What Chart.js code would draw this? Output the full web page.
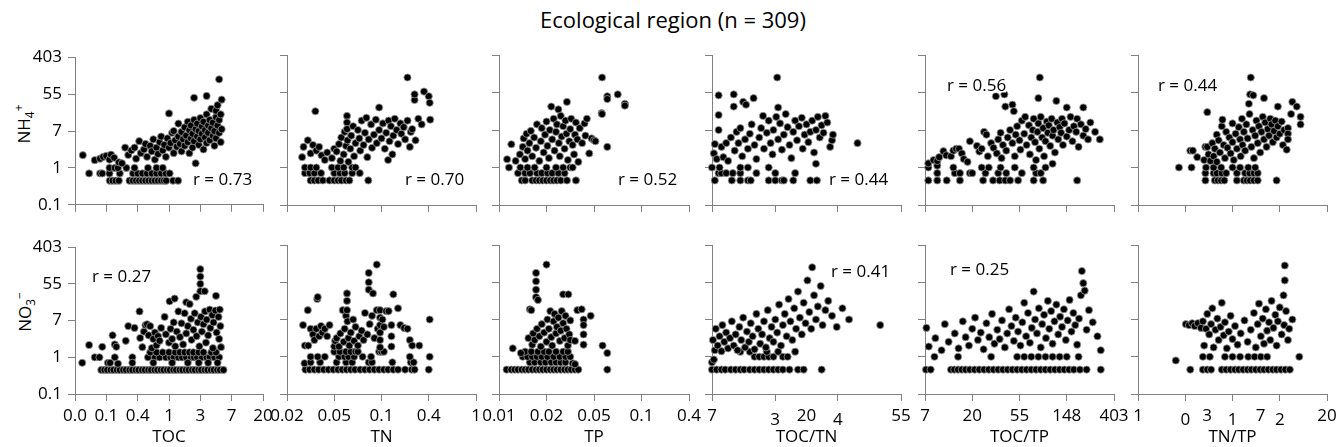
<!DOCTYPE html>
<html>
<head>
<meta charset="utf-8">
<script src="https://cdn.jsdelivr.net/npm/chart.js@4.4.1/dist/chart.umd.min.js"></script>
<style>
  html, body { margin: 0; padding: 0; background: #fff; overflow: hidden; }
  #page { position: relative; width: 1336px; height: 447px; font-family: 'Open Sans', sans-serif; color: #000; }
  #page canvas { position: absolute; }
  .txt { position: absolute; white-space: nowrap; line-height: 1; }
  .title { font-size: 22px; transform: translate(-50%, -50%); }
  .ylab { font-size: 17px; transform: translate(-50%, -50%) rotate(-90deg); }
  .ylab sub, .ylab sup { font-size: 0.7em; line-height: 0; }
  .rlab { font-size: 17px; background: #fff; transform: translateY(-50%); }
</style>
</head>
<body>
<div id="page">
  <div class="txt title" style="left:673px; top:19px;">Ecological region (n = 309)</div>
  <div class="txt ylab" style="left:23px; top:124px;">NH<sub>4</sub><sup>+</sup></div>
  <div class="txt ylab" style="left:24px; top:312px;">NO<sub>3</sub><sup>−</sup></div>
</div>
<script>
/* ---- axes: every axis is ln(value); labels are the rounded back-transformed values ---- */
const yTicks = [-2, 0, 2, 4, 6];
const yTickLabels = ['0.1', '1', '7', '55', '403'];

const tocTicks = [-3, -2, -1, 0, 1, 2, 3];
const tocLabels = ['0.0', '0.1', '0.4', '1', '3', '7', '20'];
const tnTicks = [-4, -3, -2, -1, 0];
const tnLabels = ['0.02', '0.05', '0.1', '0.4', '1'];
const tpTicks = [-5, -4, -3, -2, -1];
const tpLabels = ['0.01', '0.02', '0.05', '0.1', '0.4'];
const tocTnTicks = [2, 2.667, 3.333, 4];
const tocTnLabels = ['7', '', '', '55'];
const tocTnExtra = [[2.667, '3', 1], [3.0, '20', 0], [3.333, '4', 1]];   // [value, text, lowered]
const tocTpTicks = [2, 3, 4, 5, 6];
const tocTpLabels = ['7', '20', '55', '148', '403'];
const tnTpTicks = [0, 0.75, 1.5, 2.25, 3];
const tnTpLabels = ['1', '', '', '', '20'];
const tnTpExtra = [[0.75, '0', 1], [1.0986, '3', 0], [1.5, '1', 1], [1.9459, '7', 0], [2.25, '2', 1]];

const xTitles = ['TOC', 'TN', 'TP', 'TOC/TN', 'TOC/TP', 'TN/TP'];
const rTop = ['r = 0.73', 'r = 0.70', 'r = 0.52', 'r = 0.44', 'r = 0.56', 'r = 0.44'];
const rBottom = ['r = 0.27', '', '', 'r = 0.41', 'r = 0.25', ''];

/* ---- NH4+ (top row), [ln x, ln y] ---- */
const nh4TOC = [
  [-1.89,-0.69],[-1.8,-0.69],[-1.7,-0.69],[-1.6,-0.69],[-1.26,-0.69],[-1.15,-0.69],[-1.05,-0.69],[-0.95,-0.69],[-0.85,-0.69],
  [-0.75,-0.69],[-0.65,-0.69],[-0.55,-0.69],[-0.45,-0.69],[-0.35,-0.69],[-0.25,-0.69],[-0.16,-0.69],[-0.09,-0.69],[0.13,-0.69],[0.29,-0.69],
  [-2.55,-0.3],[-2.2,-0.3],[-2.13,-0.3],[-1.9,-0.3],[-1.57,-0.3],[-1.15,-0.3],[-1.0,-0.3],[-0.85,-0.3],[-0.7,-0.3],[-0.55,-0.3],
  [-0.4,-0.3],[-0.25,-0.3],[-0.1,-0.3],[0.02,-0.3],
  [-1.9,0],[-1.73,0],[-1.63,0],[-1.36,0],[-1.1,0],[-0.67,0],[-0.4,0],[-0.2,0],
  [-2.75,0.69],[-2.37,0.42],[-2.2,0.5],[-2.1,0.6],[-2.0,0.65],[-1.9,0.45],[-1.85,0.72],[-1.75,0.55],[-1.6,0.3],[-1.5,0.25],
  [-1.4,1.1],[-1.3,0.7],[-1.2,0.95],[-1.1,1.1],[-1.05,0.5],[-0.95,1.45],[-0.9,0.8],[-0.8,1.0],[-0.75,1.3],[-0.7,0.6],
  [-0.6,1.2],[-0.55,0.9],[-0.5,1.55],[-0.45,0.45],[-0.4,1.1],[-0.35,0.75],[-0.3,1.4],[-0.25,1.7],[-0.2,0.95],[-0.15,1.25],
  [-0.1,0.6],[-0.05,1.6],[0.0,2.95],[0.0,1.1],[0.05,1.35],[0.1,1.9],[0.15,2.0],[0.15,0.8],[0.2,1.5],[0.25,1.15],
  [0.3,1.7],[0.3,2.4],[0.35,1.3],[0.4,0.9],[0.4,1.95],[0.45,1.55],[0.5,2.2],[0.5,1.2],[0.55,1.75],[0.6,2.5],
  [0.6,1.4],[0.65,0.8],[0.65,2.05],[0.7,1.6],[0.7,2.3],[0.75,1.1],[0.75,1.85],[0.8,3.8],[0.8,2.6],[0.8,1.45],
  [0.85,2.1],[0.85,0.25],[0.9,1.7],[0.9,2.4],[0.95,1.25],[0.95,2.0],[1.0,2.7],[1.0,1.55],[1.05,2.25],[1.05,1.85],
  [1.1,1.0],[1.1,2.5],[1.15,1.65],[1.15,2.05],[1.2,3.9],[1.2,2.9],[1.2,1.35],[1.25,2.3],[1.25,1.9],[1.3,2.6],
  [1.3,1.5],[1.35,3.2],[1.35,2.15],[1.4,1.75],[1.4,2.45],[1.45,1.2],[1.45,2.0],[1.5,2.75],[1.5,3.1],[1.5,1.6],
  [1.55,2.3],[1.55,3.4],[1.6,4.8],[1.6,1.9],[1.6,2.6],[1.65,2.9],[1.65,1.4],[1.68,3.7],[1.68,2.1]
];
const nh4TN = [
  [-3.5,-0.69],[-3.42,-0.69],[-3.34,-0.69],[-3.24,-0.69],[-3.1,-0.69],[-3.0,-0.69],[-2.92,-0.69],[-2.85,-0.69],[-2.75,-0.69],[-2.68,-0.69],[-2.28,-0.69],
  [-3.62,-0.3],[-3.52,-0.3],[-3.42,-0.3],[-3.28,-0.3],[-3.0,-0.3],[-2.88,-0.3],[-2.78,-0.3],[-2.62,-0.3],[-2.46,-0.3],
  [-3.62,0],[-3.5,0],[-3.38,0],[-3.05,0],[-2.92,0],[-2.8,0],[-2.62,0],[-2.55,0],
  [-3.68,0.55],[-3.65,1.1],[-3.56,1.45],[-3.5,0.75],[-3.45,1.2],[-3.4,3.0],[-3.38,0.9],[-3.32,1.1],[-3.27,0.65],[-3.2,0.4],
  [-3.15,0.8],[-3.05,0.5],[-3.0,1.0],[-2.95,0.85],[-2.9,1.25],[-2.87,0.35],[-2.85,1.6],[-2.8,0.7],[-2.78,1.9],[-2.75,1.15],
  [-2.73,2.75],[-2.73,2.4],[-2.73,2.05],[-2.72,1.45],[-2.7,0.3],[-2.66,1.0],[-2.64,1.7],[-2.6,2.2],[-2.58,0.6],[-2.55,1.3],
  [-2.5,2.0],[-2.47,1.55],[-2.45,0.9],[-2.42,2.5],[-2.38,1.2],[-2.35,1.85],[-2.32,2.65],[-2.3,0.55],[-2.27,1.5],[-2.22,2.3],
  [-2.2,1.05],[-2.16,1.75],[-2.12,2.55],[-2.1,1.3],[-2.05,3.2],[-2.05,2.0],[-2.0,1.55],[-1.97,2.35],[-1.93,1.0],[-1.9,1.85],
  [-1.86,0.4],[-1.85,2.5],[-1.83,1.4],[-1.8,2.2],[-1.77,0.7],[-1.75,1.7],[-1.72,2.6],[-1.68,2.0],[-1.65,1.25],[-1.6,2.35],
  [-1.58,1.8],[-1.53,2.15],[-1.5,1.5],[-1.45,4.8],[-1.45,2.5],[-1.4,1.1],[-1.38,1.9],[-1.35,2.05],[-1.3,3.6],[-1.3,3.9],
  [-1.28,1.45],[-1.22,2.6],[-1.15,2.3],[-1.1,4.05],[-1.0,3.8],[-0.98,3.45],[-0.97,2.55]
];
const nh4TP = [
  [-4.52,-0.69],[-4.45,-0.69],[-4.3,-0.69],[-4.22,-0.69],[-4.15,-0.69],[-4.08,-0.69],[-4.0,-0.69],[-3.92,-0.69],[-3.85,-0.69],
  [-3.78,-0.69],[-3.7,-0.69],[-3.57,-0.69],[-3.38,-0.69],
  [-4.6,-0.3],[-4.45,-0.3],[-4.35,-0.3],[-4.2,-0.3],[-4.1,-0.3],[-3.98,-0.3],[-3.88,-0.3],[-3.75,-0.3],[-3.62,-0.3],
  [-4.79,0],[-4.55,0],[-4.4,0],[-4.25,0],[-4.0,0],[-3.8,0],[-3.65,0],[-3.5,0],[-3.45,0],
  [-4.83,0.44],[-4.74,1.24],[-4.65,0.35],[-4.56,0.7],[-4.5,1.1],[-4.48,1.55],[-4.45,0.45],[-4.42,1.8],[-4.4,0.9],[-4.36,1.3],
  [-4.33,1.95],[-4.3,0.6],[-4.26,1.6],[-4.22,1.05],[-4.2,2.3],[-4.15,0.35],[-4.12,1.4],[-4.1,2.1],[-4.06,0.8],[-4.03,1.75],
  [-4.0,2.45],[-3.98,1.15],[-3.95,0.5],[-3.93,2.0],[-3.9,3.25],[-3.88,1.5],[-3.85,2.6],[-3.83,0.9],[-3.8,1.9],[-3.78,2.3],
  [-3.75,3.1],[-3.74,1.3],[-3.72,0.6],[-3.7,2.75],[-3.68,1.65],[-3.65,2.2],[-3.62,1.0],[-3.6,2.5],[-3.58,1.8],[-3.57,3.5],
  [-3.55,0.4],[-3.52,1.4],[-3.5,2.05],[-3.48,2.6],[-3.45,1.2],[-3.42,0.7],[-3.4,1.75],[-3.38,2.4],[-3.35,1.5],[-3.33,0.3],
  [-3.3,2.1],[-3.25,1.3],[-3.2,2.35],[-3.18,1.7],[-3.15,2.6],[-3.1,0.75],[-3.05,1.55],[-3.0,1.45],[-2.97,1.4],[-2.84,2.9],
  [-2.83,2.85],[-2.83,4.8],[-2.72,3.8],[-2.72,3.65],[-2.72,1.1],[-2.5,3.9],[-2.35,3.4],[-2.35,3.3]
];
const nh4TOCTN = [
  [2.03,-0.69],[2.21,-0.69],[2.3,-0.69],[2.38,-0.69],[2.41,-0.69],[2.6,-0.69],[2.67,-0.69],[2.74,-0.69],[2.76,-0.69],[2.86,-0.69],[3.04,-0.69],[3.11,-0.69],
  [2.07,-0.3],[2.1,-0.3],[2.15,-0.3],[2.22,-0.3],[2.3,-0.3],[2.47,-0.3],[2.67,-0.3],[2.88,-0.3],
  [2.0,0],[2.08,0],[2.3,0],[2.38,0],[2.6,0],[3.1,0.2],
  [2.02,0.75],[2.03,1.25],[2.05,0.45],[2.07,2.8],[2.07,2.0],[2.07,3.85],[2.1,1.1],[2.12,0.55],[2.15,1.3],[2.17,0.35],
  [2.2,1.6],[2.23,3.9],[2.23,3.25],[2.24,0.9],[2.26,1.9],[2.28,1.3],[2.3,2.1],[2.32,0.6],[2.33,3.5],[2.35,1.5],
  [2.36,3.35],[2.38,1.0],[2.4,1.8],[2.42,2.3],[2.44,3.7],[2.45,1.2],[2.47,0.45],[2.5,1.6],[2.52,2.1],[2.54,2.75],
  [2.55,1.0],[2.58,1.85],[2.6,2.5],[2.62,1.3],[2.64,0.7],[2.65,2.0],[2.68,2.7],[2.69,4.8],[2.7,3.2],[2.7,1.5],
  [2.72,2.35],[2.74,0.95],[2.76,1.75],[2.78,2.85],[2.8,2.15],[2.82,1.2],[2.84,0.5],[2.86,1.9],[2.88,2.5],[2.9,1.45],
  [2.92,2.2],[2.95,2.65],[2.96,1.0],[2.98,1.75],[3.0,2.3],[3.02,1.35],[3.04,1.9],[3.06,2.5],[3.08,0.8],[3.1,2.0],
  [3.12,2.7],[3.14,1.6],[3.16,2.25],[3.18,1.85],[3.2,2.75],[3.22,2.4],[3.25,1.1],[3.27,1.45],[3.28,1.75],[3.54,1.3]
];
const nh4TOCTP = [
  [2.07,-0.69],[2.26,-0.69],[2.46,-0.69],[2.74,-0.69],[3.23,-0.69],[3.44,-0.69],[3.58,-0.69],[3.7,-0.69],[3.8,-0.69],[3.97,-0.69],
  [4.3,-0.69],[4.5,-0.69],[5.22,-0.69],
  [2.26,-0.3],[2.63,-0.3],[2.74,-0.3],[2.95,-0.3],[3.0,-0.3],[3.28,-0.3],[3.55,-0.3],[3.72,-0.3],[4.05,-0.3],[4.35,-0.3],[4.45,-0.3],
  [2.07,0],[2.26,0.1],[2.6,0],[3.2,0],[3.35,0],[3.6,0],[3.9,0],[4.3,0],[4.55,0],[4.7,0.2],
  [2.07,0.22],[2.18,0.4],[2.26,0.35],[2.3,0.55],[2.39,0.87],[2.45,0.65],[2.55,0.6],[2.6,0.9],[2.66,1.0],[2.72,1.0],
  [2.78,0.75],[2.82,0.45],[2.95,1.4],[2.9,0.3],[3.1,1.15],[3.15,0.85],[3.2,1.0],[3.25,1.9],[3.3,1.75],[3.33,0.6],
  [3.4,1.3],[3.45,1.05],[3.5,3.8],[3.52,0.75],[3.55,1.5],[3.6,1.85],[3.62,0.5],[3.65,1.2],[3.68,3.9],[3.7,3.25],
  [3.72,0.9],[3.75,1.6],[3.8,2.0],[3.85,3.35],[3.85,1.3],[3.88,3.0],[3.9,0.6],[3.92,1.75],[3.95,2.2],[4.0,1.45],
  [4.02,0.95],[4.05,2.5],[4.1,1.8],[4.12,2.7],[4.15,1.2],[4.2,2.25],[4.22,0.7],[4.25,1.6],[4.28,2.0],[4.3,2.6],
  [4.33,1.35],[4.35,0.4],[4.38,1.9],[4.4,3.7],[4.4,2.35],[4.42,1.0],[4.43,4.8],[4.45,2.7],[4.48,1.6],[4.5,2.1],
  [4.52,0.6],[4.55,1.4],[4.58,2.45],[4.6,1.85],[4.62,2.25],[4.65,1.15],[4.68,2.6],[4.7,1.7],[4.72,2.0],[4.75,0.8],
  [4.78,3.55],[4.8,2.4],[4.82,1.5],[4.85,2.15],[4.88,1.85],[4.9,2.6],[4.92,1.2],[4.95,2.35],[5.0,3.2],[5.0,1.65],
  [5.05,2.0],[5.08,2.7],[5.12,1.4],[5.15,2.2],[5.2,1.9],[5.22,2.6],[5.25,1.1],[5.3,2.3],[5.35,3.2],[5.35,1.7],
  [5.4,2.05],[5.45,1.5],[5.5,2.4],[5.6,1.9],[5.7,1.5]
];
const nh4TNTP = [
  [1.07,-0.69],[1.22,-0.69],[1.27,-0.69],[1.32,-0.69],[1.37,-0.69],[1.57,-0.69],[1.68,-0.69],[1.73,-0.69],[1.78,-0.69],[1.84,-0.69],[1.9,-0.69],[2.2,-0.69],
  [1.07,-0.3],[1.2,-0.3],[1.25,-0.3],[1.33,-0.3],[1.4,-0.3],[1.57,-0.3],[1.7,-0.3],[1.77,-0.3],[1.84,-0.3],[1.9,-0.3],
  [0.65,0],[0.85,0],[1.08,0],[1.2,0],[1.32,0],[1.5,0],[1.62,0],[1.75,0],[1.86,0],
  [0.83,0.9],[0.87,0.9],[0.94,0.55],[1.05,0.4],[1.07,1.1],[1.1,1.1],[1.1,2.95],[1.12,0.7],[1.15,0.35],[1.18,1.3],
  [1.2,0.6],[1.22,1.0],[1.25,1.75],[1.25,0.3],[1.28,1.45],[1.3,0.8],[1.33,2.2],[1.34,2.55],[1.36,1.2],[1.38,0.5],
  [1.4,1.9],[1.42,1.05],[1.45,1.6],[1.47,0.75],[1.5,2.35],[1.5,1.35],[1.52,0.4],[1.55,1.8],[1.57,1.0],[1.6,2.15],
  [1.62,1.5],[1.63,0.6],[1.65,2.6],[1.66,1.2],[1.68,1.9],[1.7,0.9],[1.72,2.3],[1.74,1.55],[1.76,3.4],[1.77,2.85],
  [1.78,3.9],[1.79,4.8],[1.8,1.1],[1.82,2.0],[1.83,3.85],[1.84,0.5],[1.86,1.7],[1.88,2.5],[1.9,1.3],[1.92,2.2],
  [1.94,0.8],[1.96,1.9],[1.98,2.7],[2.0,3.7],[2.0,1.5],[2.02,2.4],[2.04,1.1],[2.06,2.05],[2.08,1.7],[2.1,2.6],
  [2.12,2.3],[2.14,1.35],[2.16,1.95],[2.18,2.5],[2.2,1.6],[2.22,3.25],[2.22,2.2],[2.25,1.8],[2.28,2.45],[2.3,1.2],
  [2.32,2.0],[2.36,0.95],[2.38,2.1],[2.38,1.8],[2.38,1.5],[2.43,2.85],[2.45,3.5],[2.52,3.25],[2.58,2.7],[2.58,2.3]
];

/* ---- NO3- (bottom row) ---- */
const no3TOC = [
  [-2.16,-0.69],[-2.06,-0.69],[-1.97,-0.69],[-1.86,-0.69],[-1.77,-0.69],[-1.66,-0.69],[-1.57,-0.69],[-1.46,-0.69],[-1.37,-0.69],[-1.26,-0.69],
  [-1.17,-0.69],[-1.06,-0.69],[-0.97,-0.69],[-0.86,-0.69],[-0.77,-0.69],[-0.66,-0.69],[-0.57,-0.69],[-0.46,-0.69],[-0.37,-0.69],[-0.26,-0.69],
  [-0.17,-0.69],[-0.06,-0.69],[0.03,-0.69],[0.14,-0.69],[0.23,-0.69],[0.34,-0.69],[0.43,-0.69],[0.54,-0.69],[0.63,-0.69],[0.74,-0.69],
  [0.83,-0.69],[0.94,-0.69],[1.03,-0.69],[1.14,-0.69],[1.23,-0.69],[1.34,-0.69],[1.43,-0.69],[1.54,-0.69],[1.63,-0.69],[1.74,-0.69],
  [-2.37,0],[-2.22,0],[-1.73,0],[-1.17,0],[-0.67,0],[-0.45,0],[-0.3,0],[-0.1,0],[0.05,0],[0.15,0],[0.3,0],[0.42,0],
  [0.55,0],[0.7,0],[0.8,0],[0.9,0],[1.05,0],[1.2,0],[1.3,0],[1.45,0],[1.6,0],
  [-2.77,-0.3],[-1.95,-0.3],[-1.88,-0.3],[-1.63,-0.35],[-1.17,-0.3],[-0.5,-0.3],[0.1,-0.3],[0.6,-0.3],[0.95,-0.3],[1.25,-0.3],[1.55,-0.3],
  [-0.6,0.27],[-0.4,0.27],[-0.2,0.27],[0.0,0.27],[0.2,0.27],[0.35,0.27],[0.5,0.27],[0.65,0.27],[0.78,0.27],[0.95,0.27],[1.1,0.27],[1.35,0.27],[1.5,0.27],
  [-2.55,0.67],[-2.13,0.57],[-1.8,1.2],[-1.73,0.7],[-1.68,0.57],[-1.38,0.9],[-1.3,1.7],[-1.1,1.6],[-0.94,2.5],[-0.92,1.05],
  [-0.85,0.55],[-0.8,1.4],[-0.75,1.75],[-0.7,1.8],[-0.65,1.2],[-0.6,1.7],[-0.55,0.5],[-0.5,1.0],[-0.45,1.35],[-0.4,0.65],
  [-0.35,1.15],[-0.3,0.9],[-0.25,1.6],[-0.14,2.2],[-0.1,1.25],[0.0,0.8],[0.02,3.05],[0.05,1.55],[0.1,1.0],[0.15,1.9],
  [0.18,3.2],[0.2,0.6],[0.25,1.4],[0.3,2.5],[0.35,1.1],[0.4,1.85],[0.45,0.7],[0.5,2.4],[0.55,3.0],[0.55,1.3],
  [0.6,1.7],[0.66,2.9],[0.7,2.1],[0.72,0.95],[0.78,1.5],[0.82,2.4],[0.87,3.3],[0.88,1.15],[0.92,1.9],[0.97,0.6],
  [1.0,4.8],[1.0,4.4],[1.0,4.0],[1.0,3.6],[1.02,2.2],[1.05,1.4],[1.1,1.8],[1.14,3.6],[1.15,2.5],[1.18,0.8],
  [1.2,2.05],[1.25,1.2],[1.3,2.6],[1.32,1.6],[1.38,2.3],[1.4,0.5],[1.42,1.9],[1.48,2.55],[1.5,3.35],[1.52,1.35],
  [1.58,2.2],[1.6,1.0],[1.62,2.6],[1.64,1.7],[1.66,0.55]
];
const no3TN = [
  [-3.61,-0.69],[-3.52,-0.69],[-3.42,-0.69],[-3.33,-0.69],[-3.22,-0.69],[-3.12,-0.69],[-3.02,-0.69],[-2.92,-0.69],[-2.83,-0.69],[-2.74,-0.69],
  [-2.65,-0.69],[-2.56,-0.69],[-2.45,-0.69],[-2.35,-0.69],[-2.25,-0.69],[-2.15,-0.69],[-2.05,-0.69],[-1.95,-0.69],[-1.86,-0.69],[-1.75,-0.69],
  [-1.65,-0.69],[-1.5,-0.69],[-1.36,-0.69],[-1.3,-0.69],[-1.0,-0.69],
  [-3.63,-0.35],[-3.5,-0.3],[-3.3,-0.3],[-2.95,-0.3],[-2.75,-0.3],[-2.62,-0.3],[-2.27,-0.3],[-2.2,-0.3],[-1.77,-0.3],[-1.38,-0.3],[-1.32,-0.3],
  [-3.5,0],[-3.35,0],[-3.2,0],[-2.9,0],[-2.78,0],[-2.7,0],[-2.58,0],[-2.4,0],[-2.22,0],[-1.4,0],[-0.98,0],
  [-3.0,0.27],[-2.88,0.27],[-2.75,0.27],[-2.65,0.27],[-2.55,0.27],[-2.5,0.27],[-2.05,0.27],[-2.0,0.27],[-1.95,0.27],
  [-3.66,1.7],[-3.62,0.6],[-3.56,2.5],[-3.55,0.6],[-3.5,1.5],[-3.45,1.2],[-3.42,0.9],[-3.38,1.5],[-3.36,3.1],[-3.35,3.2],
  [-3.32,1.1],[-3.28,1.65],[-3.25,1.3],[-3.2,1.5],[-3.15,1.1],[-3.1,1.7],[-3.0,0.55],[-2.98,0.85],[-2.95,1.0],[-2.9,0.55],
  [-2.87,1.25],[-2.82,2.5],[-2.8,0.8],[-2.78,1.5],[-2.75,2.2],[-2.73,3.4],[-2.73,3.0],[-2.73,2.5],[-2.72,1.9],[-2.7,1.0],
  [-2.68,0.6],[-2.65,1.3],[-2.6,2.0],[-2.58,0.85],[-2.55,1.6],[-2.5,0.6],[-2.47,1.1],[-2.42,1.4],[-2.38,0.9],[-2.35,2.35],
  [-2.3,1.2],[-2.27,4.5],[-2.27,4.0],[-2.27,3.6],[-2.25,1.75],[-2.2,2.2],[-2.18,3.4],[-2.15,1.0],[-2.1,4.95],[-2.1,2.5],
  [-2.08,1.5],[-2.03,2.5],[-2.03,2.1],[-2.03,1.7],[-2.03,1.3],[-2.03,0.9],[-2.03,0.5],[-1.98,2.0],[-1.95,1.6],[-1.9,2.45],
  [-1.85,2.45],[-1.79,1.7],[-1.79,1.1],[-1.79,0.55],[-1.75,3.35],[-1.65,2.6],[-1.6,1.7],[-1.52,1.55],[-1.45,1.5],[-1.4,0.9],
  [-1.35,0.6],[-1.2,0.6],[-0.98,2.0]
];
const no3TP = [
  [-4.84,-0.69],[-4.74,-0.69],[-4.67,-0.69],[-4.6,-0.69],[-4.52,-0.69],[-4.45,-0.69],[-4.38,-0.69],[-4.3,-0.69],[-4.22,-0.69],[-4.15,-0.69],
  [-4.08,-0.69],[-4.0,-0.69],[-3.92,-0.69],[-3.85,-0.69],[-3.78,-0.69],[-3.7,-0.69],[-3.62,-0.69],[-3.55,-0.69],[-3.48,-0.69],[-3.4,-0.69],
  [-3.33,-0.69],[-2.72,-0.69],
  [-4.35,-0.3],[-4.25,-0.3],[-4.12,-0.3],[-4.02,-0.3],[-3.9,-0.3],[-3.8,-0.3],[-3.7,-0.3],[-3.6,-0.3],[-3.45,-0.35],[-3.4,-0.4],
  [-4.5,0],[-4.4,0],[-4.3,0],[-4.2,0],[-4.1,0],[-3.98,0],[-3.85,0],[-3.72,0],[-3.6,0],[-3.5,0],
  [-4.45,0.27],[-4.32,0.27],[-4.18,0.27],[-4.05,0.27],[-3.95,0.27],[-3.8,0.27],[-3.65,0.27],[-3.55,0.27],
  [-4.71,0.45],[-4.54,0.2],[-4.38,1.0],[-4.35,2.55],[-4.32,2.5],[-4.3,0.65],[-4.28,1.25],[-4.25,0.9],[-4.22,4.5],[-4.22,4.05],
  [-4.22,3.6],[-4.22,3.2],[-4.18,3.05],[-4.2,1.5],[-4.15,1.1],[-4.12,0.55],[-4.1,1.75],[-4.05,1.3],[-4.0,4.95],[-4.0,0.8],
  [-3.98,2.0],[-3.95,1.5],[-3.92,2.45],[-3.9,1.05],[-3.88,0.6],[-3.85,1.9],[-3.83,2.3],[-3.8,1.25],[-3.78,1.6],[-3.75,2.1],
  [-3.72,0.85],[-3.7,1.4],[-3.68,2.45],[-3.65,3.35],[-3.65,1.8],[-3.62,1.0],[-3.6,2.2],[-3.58,1.5],[-3.55,0.6],[-3.54,3.35],
  [-3.52,1.2],[-3.5,1.95],[-3.5,0.9],[-3.4,0.85],[-3.35,2.5],[-3.26,2.55],[-3.22,2.0],[-3.22,1.7],[-3.22,1.2],[-3.22,0.65],
  [-3.07,2.2],[-2.82,0.6],[-2.72,0.2]
];
const no3TOCTN = [
  [2.0,-0.69],[2.05,-0.69],[2.1,-0.69],[2.14,-0.69],[2.2,-0.69],[2.25,-0.69],[2.3,-0.69],[2.34,-0.69],[2.4,-0.69],[2.45,-0.69],
  [2.5,-0.69],[2.55,-0.69],[2.6,-0.69],[2.65,-0.69],[2.7,-0.69],[2.75,-0.69],[2.82,-0.69],[2.91,-0.69],[2.97,-0.69],[3.16,-0.69],
  [2.0,-0.3],[2.02,-0.15],[2.45,0],[2.5,0],[2.55,0],[2.6,0],[2.65,0],[2.75,0],[2.8,0],
  [2.3,0.27],[2.4,0.27],[2.58,0.27],[2.7,0.27],[2.88,0.27],
  [2.01,0.9],[2.03,0.35],[2.04,1.5],[2.06,0.6],[2.08,1.1],[2.1,0.3],[2.11,1.7],[2.13,0.8],[2.15,1.3],[2.17,0.45],
  [2.19,1.0],[2.21,1.9],[2.23,0.6],[2.25,1.2],[2.27,0.35],[2.29,1.6],[2.31,0.9],[2.33,2.1],[2.35,0.5],[2.37,1.35],
  [2.39,0.8],[2.41,1.8],[2.43,1.1],[2.45,0.4],[2.47,2.3],[2.49,1.5],[2.51,0.7],[2.53,1.2],[2.55,1.9],[2.57,0.5],
  [2.59,2.5],[2.61,1.0],[2.63,1.6],[2.65,0.8],[2.67,2.0],[2.69,1.3],[2.71,2.8],[2.73,0.6],[2.75,1.7],[2.77,2.3],
  [2.79,1.1],[2.81,3.1],[2.83,1.9],[2.85,0.9],[2.87,2.6],[2.89,1.5],[2.91,3.5],[2.93,2.1],[2.95,1.2],[2.97,2.9],
  [2.99,1.8],[3.01,4.1],[3.03,2.4],[3.05,1.5],[3.06,4.8],[3.08,3.3],[3.1,2.0],[3.12,2.7],[3.15,3.8],[3.17,1.7],
  [3.2,2.5],[3.23,3.0],[3.27,2.2],[3.32,1.6],[3.38,2.6],[3.45,2.0],[3.78,1.7]
];
const no3TOCTP = [
  [2.02,-0.69],[2.12,-0.69],[2.55,-0.69],[2.62,-0.69],[2.7,-0.69],[2.78,-0.69],[2.86,-0.69],[2.95,-0.69],[3.05,-0.69],[3.15,-0.69],
  [3.25,-0.69],[3.35,-0.69],[3.45,-0.69],[3.55,-0.69],[3.65,-0.69],[3.75,-0.69],[3.85,-0.69],[3.95,-0.69],[4.05,-0.69],[4.15,-0.69],
  [4.25,-0.69],[4.35,-0.69],[4.45,-0.69],[4.55,-0.69],[4.65,-0.69],[4.75,-0.69],[4.85,-0.69],[4.95,-0.69],[5.05,-0.69],[5.15,-0.69],
  [5.28,-0.69],[5.42,-0.69],[5.72,-0.69],
  [2.2,0],[2.7,0],[3.4,0],[3.95,0],[4.1,0],[4.25,0],[4.4,0],[4.55,0],[4.7,0],[4.85,0],[5.0,0],[5.25,0],
  [2.03,1.55],[2.08,0.55],[2.22,1.0],[2.35,0.35],[2.42,1.75],[2.5,0.8],[2.63,1.25],[2.71,0.45],[2.8,1.9],[2.86,1.05],
  [2.93,0.6],[3.0,1.5],[3.06,2.1],[3.12,0.9],[3.18,1.3],[3.24,0.4],[3.3,1.8],[3.36,1.05],[3.42,2.3],[3.47,0.7],
  [3.53,1.45],[3.58,0.95],[3.63,1.95],[3.69,0.5],[3.74,1.25],[3.78,2.55],[3.83,1.65],[3.88,0.85],[3.92,2.1],[3.97,1.35],
  [4.02,0.6],[4.06,1.85],[4.1,2.9],[4.14,1.1],[4.18,2.35],[4.22,0.75],[4.26,1.55],[4.3,3.5],[4.33,2.0],[4.37,1.25],
  [4.41,2.6],[4.45,0.5],[4.48,1.75],[4.52,2.25],[4.56,1.0],[4.6,3.0],[4.63,1.5],[4.67,2.45],[4.7,0.7],[4.74,1.9],
  [4.78,2.8],[4.82,1.2],[4.86,2.15],[4.9,1.6],[4.94,2.55],[4.98,0.9],[5.02,1.95],[5.06,3.05],[5.1,1.35],[5.14,2.35],
  [5.18,1.7],[5.22,0.65],[5.26,2.05],[5.3,3.3],[5.32,4.6],[5.35,3.95],[5.38,3.55],[5.42,1.45],[5.47,2.5],[5.55,1.85],
  [5.65,1.1],[5.72,0.35]
];
const no3TNTP = [
  [0.83,-0.69],[1.03,-0.69],[1.1,-0.69],[1.16,-0.69],[1.33,-0.69],[1.4,-0.69],[1.47,-0.69],[1.54,-0.69],[1.6,-0.69],[1.67,-0.69],
  [1.74,-0.69],[1.8,-0.69],[1.87,-0.69],[1.94,-0.69],[2.0,-0.69],[2.07,-0.69],[2.14,-0.69],[2.2,-0.69],[2.27,-0.69],[2.34,-0.69],[2.41,-0.69],
  [0.6,-0.2],[1.03,0],[1.14,0],[1.38,0],[1.5,0],[1.62,0],[1.75,0],[1.85,0],[1.95,0],[2.05,0],[2.56,0],
  [0.76,1.75],[0.81,1.7],[0.86,1.8],[0.9,1.65],[0.95,1.8],[1.0,1.55],[1.03,1.9],[1.05,0.6],[1.08,1.5],[1.1,2.3],
  [1.13,1.2],[1.16,1.75],[1.18,2.6],[1.2,0.5],[1.23,1.45],[1.26,2.05],[1.28,0.9],[1.31,1.6],[1.33,2.9],[1.36,1.15],
  [1.38,1.85],[1.41,0.45],[1.44,1.35],[1.47,2.2],[1.5,0.95],[1.54,1.65],[1.58,0.65],[1.63,1.25],[1.69,1.95],[1.74,0.8],
  [1.79,1.45],[1.84,2.35],[1.87,0.5],[1.9,1.75],[1.92,2.85],[1.95,1.1],[1.98,2.05],[2.0,0.7],[2.03,2.55],[2.05,1.4],
  [2.08,1.85],[2.1,0.9],[2.12,3.0],[2.15,1.55],[2.18,2.25],[2.2,0.6],[2.22,1.9],[2.25,2.65],[2.33,4.9],[2.33,4.1],
  [2.28,1.2],[2.31,3.3],[2.32,1.7],[2.35,2.45],[2.38,0.9],[2.4,1.5],[2.45,2.0]
];

/* ---- layout (pixels) ---- */
const axisColor = '#808080';
const cols = [
  { L: 75,   R: 263,  ticks: tocTicks,   labels: tocLabels,   extra: [] },
  { L: 287,  R: 476,  ticks: tnTicks,    labels: tnLabels,    extra: [] },
  { L: 499,  R: 689,  ticks: tpTicks,    labels: tpLabels,    extra: [] },
  { L: 712,  R: 901,  ticks: tocTnTicks, labels: tocTnLabels, extra: tocTnExtra },
  { L: 925,  R: 1114, ticks: tocTpTicks, labels: tocTpLabels, extra: [] },
  { L: 1138, R: 1327, ticks: tnTpTicks,  labels: tnTpLabels,  extra: tnTpExtra }
];
const rows = [
  { T: 55,  B: 205, data: [nh4TOC, nh4TN, nh4TP, nh4TOCTN, nh4TOCTP, nh4TNTP], r: rTop,
    rPos: [[193,178],[405,178],[618,178],[829,178],[947,84],[1158,84]] },
  { T: 245, B: 394, data: [no3TOC, no3TN, no3TP, no3TOCTN, no3TOCTP, no3TNTP], r: rBottom,
    rPos: [[92,275],null,null,[831,270],[950,268],null] }
];

Chart.defaults.font.family = "'Open Sans', sans-serif";
Chart.defaults.font.size = 17;
Chart.defaults.color = '#000';

/* extra x labels that sit between / below the regular ticks */
const extraTicks = {
  id: 'extraTicks',
  afterDraw(chart, args, opts) {
    if (!opts.items || !opts.items.length) return;
    const xs = chart.scales.x;
    const ctx = chart.ctx;
    ctx.save();
    ctx.font = "17px 'Open Sans', sans-serif";
    ctx.fillStyle = '#000';
    ctx.textAlign = 'center';
    ctx.textBaseline = 'middle';
    opts.items.forEach(([v, t, low]) => {
      ctx.fillText(t, xs.getPixelForValue(v), xs.top + 7 + 5 + 10.2 + (low ? 4 : 0));
    });
    ctx.restore();
  }
};

const page = document.getElementById('page');
const padTop = 14, padRight = 25;

rows.forEach((row, ri) => {
  cols.forEach((col, ci) => {
    const leftW = ci === 0 ? 75 : 25;
    const top = row.T - padTop;
    const bottom = ri === 0 ? row.B + 16 : 447;
    const w = leftW + (col.R - col.L) + padRight;
    const h = bottom - top;
    const cv = document.createElement('canvas');
    cv.width = w; cv.height = h;
    cv.style.left = (col.L - leftW) + 'px';
    cv.style.top = top + 'px';
    cv.style.width = w + 'px'; cv.style.height = h + 'px';
    page.appendChild(cv);

    const showX = ri === 1;
    new Chart(cv, {
      type: 'scatter',
      data: {
        datasets: [{
          data: row.data[ci].map(p => ({ x: p[0], y: p[1] })),
          pointRadius: 3.6,
          pointBackgroundColor: '#000',
          pointBorderColor: '#9a9a9a',
          pointBorderWidth: 0.8,
          clip: false
        }]
      },
      options: {
        responsive: false,
        animation: false,
        events: [],
        layout: { padding: { top: padTop, right: padRight, left: 0, bottom: 0 } },
        plugins: {
          legend: { display: false },
          tooltip: { enabled: false },
          extraTicks: { items: showX ? col.extra : [] }
        },
        scales: {
          x: {
            type: 'linear',
            min: col.ticks[0],
            max: col.ticks[col.ticks.length - 1],
            afterBuildTicks: s => { s.ticks = col.ticks.map(v => ({ value: v })); },
            afterFit: s => { s.height = bottom - row.B; },
            ticks: {
              display: showX, autoSkip: false, maxRotation: 0, minRotation: 0, padding: 5,
              callback: (v, i) => col.labels[i]
            },
            grid: { display: true, drawOnChartArea: false, drawTicks: true, tickLength: 7, color: axisColor },
            border: { display: true, color: axisColor, width: 1 },
            title: { display: showX, text: xTitles[ci], padding: { top: 0, bottom: 0 }, font: { size: 17 } }
          },
          y: {
            type: 'linear',
            min: yTicks[0],
            max: yTicks[yTicks.length - 1],
            afterBuildTicks: s => { s.ticks = yTicks.map(v => ({ value: v })); },
            afterFit: s => { s.width = leftW; },
            ticks: { display: ci === 0, padding: 6, callback: (v, i) => yTickLabels[i] },
            grid: { display: true, drawOnChartArea: false, drawTicks: true, tickLength: 7, color: axisColor },
            border: { display: true, color: axisColor, width: 1 }
          }
        }
      },
      plugins: [extraTicks]
    });

    if (row.r[ci]) {
      const d = document.createElement('div');
      d.className = 'txt rlab';
      d.textContent = row.r[ci];
      d.style.left = row.rPos[ci][0] + 'px';
      d.style.top = row.rPos[ci][1] + 'px';
      page.appendChild(d);
    }
  });
});
</script>
</body>
</html>
